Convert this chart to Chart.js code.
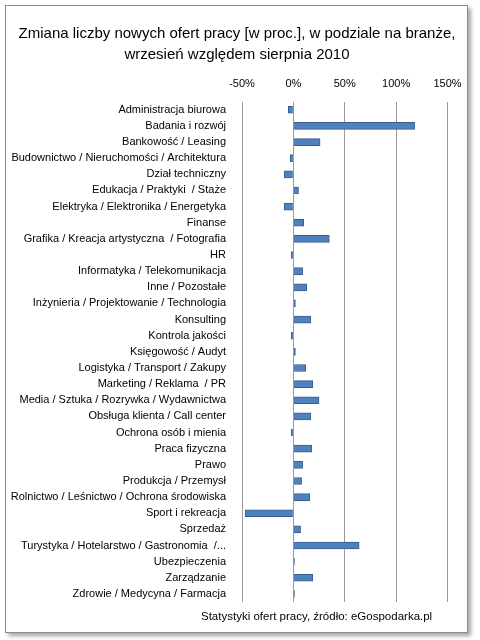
<!DOCTYPE html>
<html>
<head>
<meta charset="utf-8">
<script src="https://cdn.jsdelivr.net/npm/chart.js@4"></script>
<style>
  html, body { margin: 0; padding: 0; background: #fff; }
  #frame {
    position: absolute; left: 5px; top: 5px; width: 461px; height: 626px;
    border: 1px solid #8c8c8c; box-shadow: 3px 3px 4px rgba(0,0,0,0.35);
    background: #fff;
  }
  #wrap { position: absolute; left: 0; top: 0; width: 480px; height: 640px; }
  #footer {
    position: absolute; left: 201px; top: 610px;
    font: 11.5px "Liberation Sans", sans-serif; color: #000;
  }
</style>
</head>
<body>
<div id="frame"></div>
<div id="wrap"><canvas id="chart" width="480" height="640"></canvas></div>
<div id="footer">Statystyki ofert pracy, źródło: eGospodarka.pl</div>
<script>
// kategorie (branże)
const categories = [
  "Administracja biurowa",
  "Badania i rozwój",
  "Bankowość / Leasing",
  "Budownictwo / Nieruchomości / Architektura",
  "Dział techniczny",
  "Edukacja / Praktyki  / Staże",
  "Elektryka / Elektronika / Energetyka",
  "Finanse",
  "Grafika / Kreacja artystyczna  / Fotografia",
  "HR",
  "Informatyka / Telekomunikacja",
  "Inne / Pozostałe",
  "Inżynieria / Projektowanie / Technologia",
  "Konsulting",
  "Kontrola jakości",
  "Księgowość / Audyt",
  "Logistyka / Transport / Zakupy",
  "Marketing / Reklama  / PR",
  "Media / Sztuka / Rozrywka / Wydawnictwa",
  "Obsługa klienta / Call center",
  "Ochrona osób i mienia",
  "Praca fizyczna",
  "Prawo",
  "Produkcja / Przemysł",
  "Rolnictwo / Leśnictwo / Ochrona środowiska",
  "Sport i rekreacja",
  "Sprzedaż",
  "Turystyka / Hotelarstwo / Gastronomia  /...",
  "Ubezpieczenia",
  "Zarządzanie",
  "Zdrowie / Medycyna / Farmacja"
];

// zmiana w procentach, wrzesień vs sierpień 2010
const changePct = [
  -5, 118, 26, -3, -9, 5, -9, 10, 35, -2,
  9, 13, 2, 17, -2, 2, 12, 19, 25, 17,
  -2, 18, 9, 8, 16, -47, 7, 64, 1, 19, 1
];

const xTicks = [-50, 0, 50, 100, 150];

const FONT = "'Liberation Sans', sans-serif";

new Chart(document.getElementById("chart").getContext("2d"), {
  type: "bar",
  data: {
    labels: categories,
    datasets: [{
      data: changePct,
      backgroundColor: "#4f81bd",
      borderColor: "#385d8a",
      borderWidth: 1,
      barThickness: 7
    }]
  },
  options: {
    indexAxis: "y",
    responsive: false,
    animation: false,
    layout: { padding: { left: 8, right: 14, top: 0, bottom: 38 } },
    plugins: {
      legend: { display: false },
      tooltip: { enabled: false },
      title: {
        display: true,
        text: ["Zmiana liczby nowych ofert pracy [w proc.], w podziale na branże,",
               "wrzesień względem sierpnia 2010"],
        color: "#000",
        font: { family: FONT, size: 15, weight: "normal", lineHeight: 1.35 },
        padding: { top: 24, bottom: 2 }
      }
    },
    scales: {
      x: {
        position: "top",
        min: -50,
        max: 168,
        afterBuildTicks: s => { s.ticks = xTicks.map(v => ({ value: v })); },
        ticks: {
          color: "#000",
          font: { family: FONT, size: 11 },
          callback: v => `${v}%`,
          padding: 11
        },
        grid: { color: "#9a9a9a", drawTicks: false, lineWidth: 1 },
        border: { display: false }
      },
      y: {
        afterFit: s => { s.width = 234; },
        ticks: {
          color: "#000",
          font: { family: FONT, size: 11 },
          autoSkip: false,
          padding: 8
        },
        grid: { display: false },
        border: { display: false }
      }
    }
  }
});
</script>
</body>
</html>
